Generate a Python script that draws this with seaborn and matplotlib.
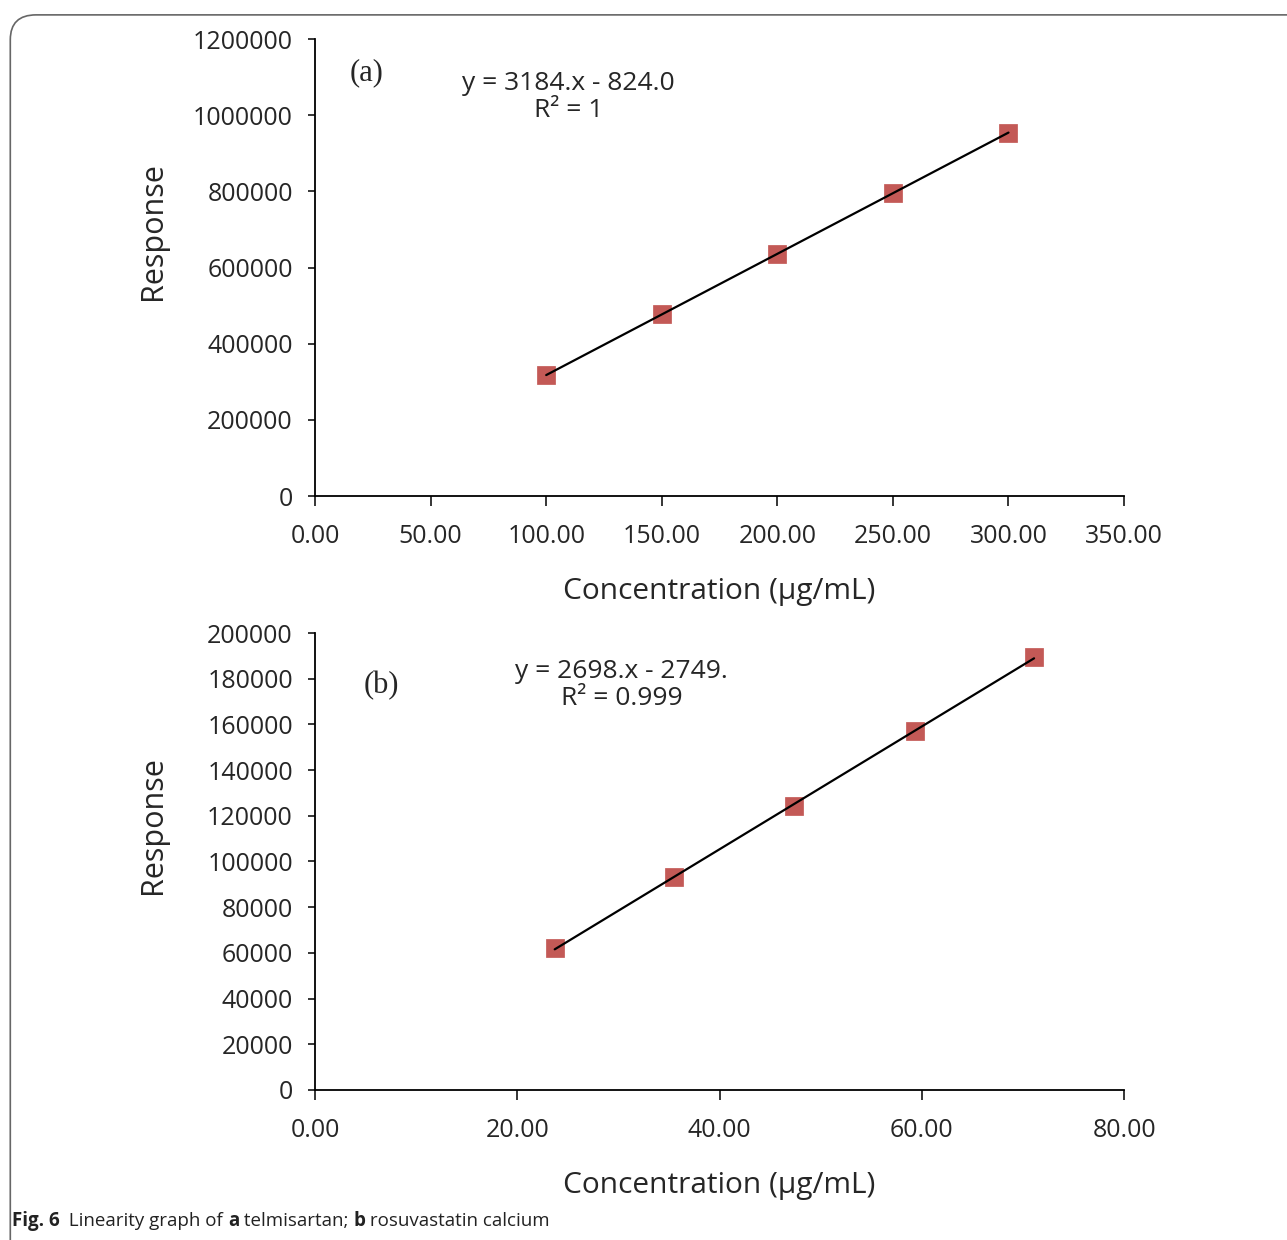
import numpy as np
import pandas as pd
import seaborn as sns
import matplotlib.pyplot as plt
from matplotlib.patches import FancyBboxPatch
from matplotlib.ticker import FormatStrFormatter, FixedLocator

# data
conc_a = [100, 150, 200, 250, 300]
resp_a = [317576, 476776, 635976, 795176, 954376]
conc_b = [23.7, 35.5, 47.4, 59.3, 71.1]
resp_b = [62100, 93200, 124300, 157100, 189500]

xticks_a = [0, 50, 100, 150, 200, 250, 300, 350]
yticks_a = [0, 200000, 400000, 600000, 800000, 1000000, 1200000]
xticks_b = [0, 20, 40, 60, 80]
yticks_b = [0, 20000, 40000, 60000, 80000, 100000, 120000, 140000, 160000, 180000, 200000]

eq_a = "y = 3184.x - 824.0\nR² = 1"
eq_b = "y = 2698.x - 2749.\nR² = 0.999"

caption = [("Fig. 6", 'bold'), ("  Linearity graph of ", 'normal'), ("a", 'bold'),
           (" telmisartan; ", 'normal'), ("b", 'bold'), (" rosuvastatin calcium", 'normal')]

sns.set_style("ticks")
plt.rcParams['font.family'] = ['DejaVu Sans']

fig = plt.figure(figsize=(12.87, 12.40), dpi=100)

# rounded frame around the figure
frame = FancyBboxPatch((0.008, -0.02), 1.05, 1.008, boxstyle="round,pad=0,rounding_size=0.02",
                       transform=fig.transFigure, facecolor='none', edgecolor='#666666', lw=1.2)
fig.patches.append(frame)

red = '#C0504D'
sans = ['Open Sans', 'DejaVu Sans']


def panel(rect, x, y, xt, yt, label, lab_pos, eq, eq_pos):
    ax = fig.add_axes(rect)
    df = pd.DataFrame({'conc': x, 'resp': y})
    sns.regplot(data=df, x='conc', y='resp', ax=ax, ci=None, marker='s', truncate=True,
                scatter_kws=dict(s=150, color=red, alpha=0.95, edgecolor=red, linewidths=0.5),
                line_kws=dict(color='black', lw=1.6))
    ax.set_xlim(xt[0], xt[-1])
    ax.set_ylim(yt[0], yt[-1])
    ax.xaxis.set_major_locator(FixedLocator(xt))
    ax.yaxis.set_major_locator(FixedLocator(yt))
    ax.xaxis.set_major_formatter(FormatStrFormatter('%.2f'))
    ax.yaxis.set_major_formatter(FormatStrFormatter('%d'))
    sns.despine(ax=ax)
    for s in ['left', 'bottom']:
        ax.spines[s].set_linewidth(1.3)
        ax.spines[s].set_color('black')
    ax.tick_params(axis='y', length=5, width=1.3, pad=11)
    ax.tick_params(axis='x', length=7, width=1.3, pad=13)
    for t in ax.get_xticklabels() + ax.get_yticklabels():
        t.set_fontfamily(sans)
        t.set_fontsize(18)
    ax.set_xlabel('Concentration (µg/mL)', fontsize=21.5, family=sans)
    ax.set_ylabel('Response', fontsize=22, family=sans)
    ax.xaxis.set_label_coords(0.5, -0.178)
    ax.yaxis.set_label_coords(-0.182, 0.58)
    ax.text(lab_pos[0], lab_pos[1], label, transform=ax.transAxes, ha='center', va='center',
            fontsize=22, family=['Liberation Serif', 'DejaVu Serif'])
    ax.text(eq_pos[0], eq_pos[1], eq, transform=ax.transAxes, ha='center', va='center',
            fontsize=19, family=sans, linespacing=1.1)
    return ax


panel([0.2448, 0.6, 0.6286, 0.3685], conc_a, resp_a, xticks_a, yticks_a,
      '(a)', (0.064, 0.926), eq_a, (0.313, 0.873))
panel([0.2448, 0.121, 0.6286, 0.3685], conc_b, resp_b, xticks_b, yticks_b,
      '(b)', (0.082, 0.884), eq_b, (0.379, 0.886))

# caption, pieces placed side by side
cap_y = 0.011
texts = [fig.text(0.009, cap_y, txt, fontsize=13.5, fontweight=w, family=sans,
                  va='baseline', ha='left', color='#222222') for txt, w in caption]
fig.canvas.draw()
r = fig.canvas.get_renderer()
xpix = texts[0].get_window_extent(r).x1
for t in texts[1:]:
    t.set_transform(fig.dpi_scale_trans)
    t.set_position((xpix / fig.dpi, cap_y * fig.get_figheight()))
    xpix = t.get_window_extent(r).x1

fig.savefig('out.png', dpi=100)
